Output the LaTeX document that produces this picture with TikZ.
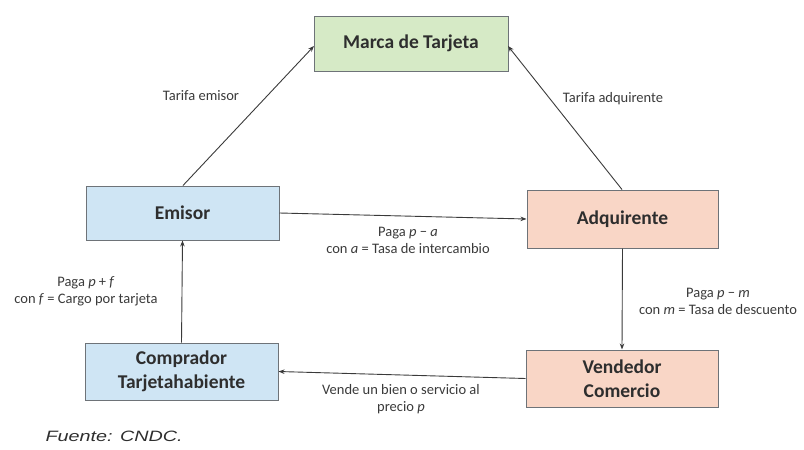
\documentclass[tikz,border=0pt]{standalone}
\usepackage{fontspec}
\setmainfont{Carlito}
\newfontfamily\fuentefont{Liberation Sans}
\usetikzlibrary{arrows.meta}
\definecolor{boxgreen}{HTML}{D6EAC6}
\definecolor{boxblue}{HTML}{CFE5F4}
\definecolor{boxsalmon}{HTML}{F9D6C6}
\definecolor{edgegray}{HTML}{6E7378}
\definecolor{txtgray}{HTML}{2E2E2E}
\definecolor{lbltxt}{HTML}{3A3A3A}
\definecolor{linegray}{HTML}{3A3A3A}
\tikzset{
  entity/.style={draw=edgegray, line width=1pt, minimum height=55pt, minimum width=193pt,
    align=center, font=\fontsize{19.5}{24}\selectfont\bfseries, text=txtgray, inner sep=2pt},
  flow/.style={draw=linegray, line width=0.9pt, -{Stealth[length=6pt,width=4.5pt]}},
  lbl/.style={font=\fontsize{14.5}{17}\selectfont, text=lbltxt, align=center}
}
\begin{document}
\begin{tikzpicture}[x=1pt,y=-1pt]
\useasboundingbox (0,0) rectangle (804,450);
\node[entity, fill=boxgreen, minimum width=194pt] (marca) at (411,43.5) {Marca de Tarjeta};
\node[entity, fill=boxblue, minimum height=54pt] (emisor) at (182.5,213) {Emisor};
\node[entity, fill=boxsalmon, minimum width=191pt, minimum height=58pt] (adq) at (622.5,219) {Adquirente};
\node[entity, fill=boxblue, minimum height=57pt] (comp) at (181.5,371.5) {Comprador\\Tarjetahabiente};
\node[entity, fill=boxsalmon, minimum width=192pt, minimum height=57pt] (vend) at (622,378.5) {Vendedor\\Comercio};

\coordinate (mL) at (314,46);
\coordinate (mR) at (508,46);
\draw[flow] (emisor.north -| 183,0) -- (mL);
\draw[flow] (adq.north -| 622,0) -- (mR);
\draw[flow] (emisor.east) -- (adq.west);
\draw[flow] (adq.south) -- (vend.north);
\draw[flow] (vend.west) -- (comp.east);
\draw[flow] (comp.north) -- (emisor.south);

\node[lbl] (l1) at (201,96) {Tarifa emisor};
\node[lbl] (l2) at (613,99) {Tarifa adquirente};
\node[lbl] (l3) at (408,240) {Paga \textit{p} − \textit{a}\\con \textit{a} = Tasa de intercambio};
\node[lbl] (l4) at (718,301.5) {Paga \textit{p} − \textit{m}\\con \textit{m} = Tasa de descuento};
\node[lbl] (l5) at (86,291.5) {Paga \textit{p} + \textit{f}\\con \textit{f} = Cargo por tarjeta};
\node[lbl] (l6) at (401,399) {Vende un bien o servicio al\\precio \textit{p}};
\node[anchor=west, font=\fuentefont\itshape\fontsize{15}{18}\selectfont, text=txtgray] (src) at (42,436) {\scalebox{1.32}[1]{Fuente: CNDC.}};
\end{tikzpicture}
\end{document}
